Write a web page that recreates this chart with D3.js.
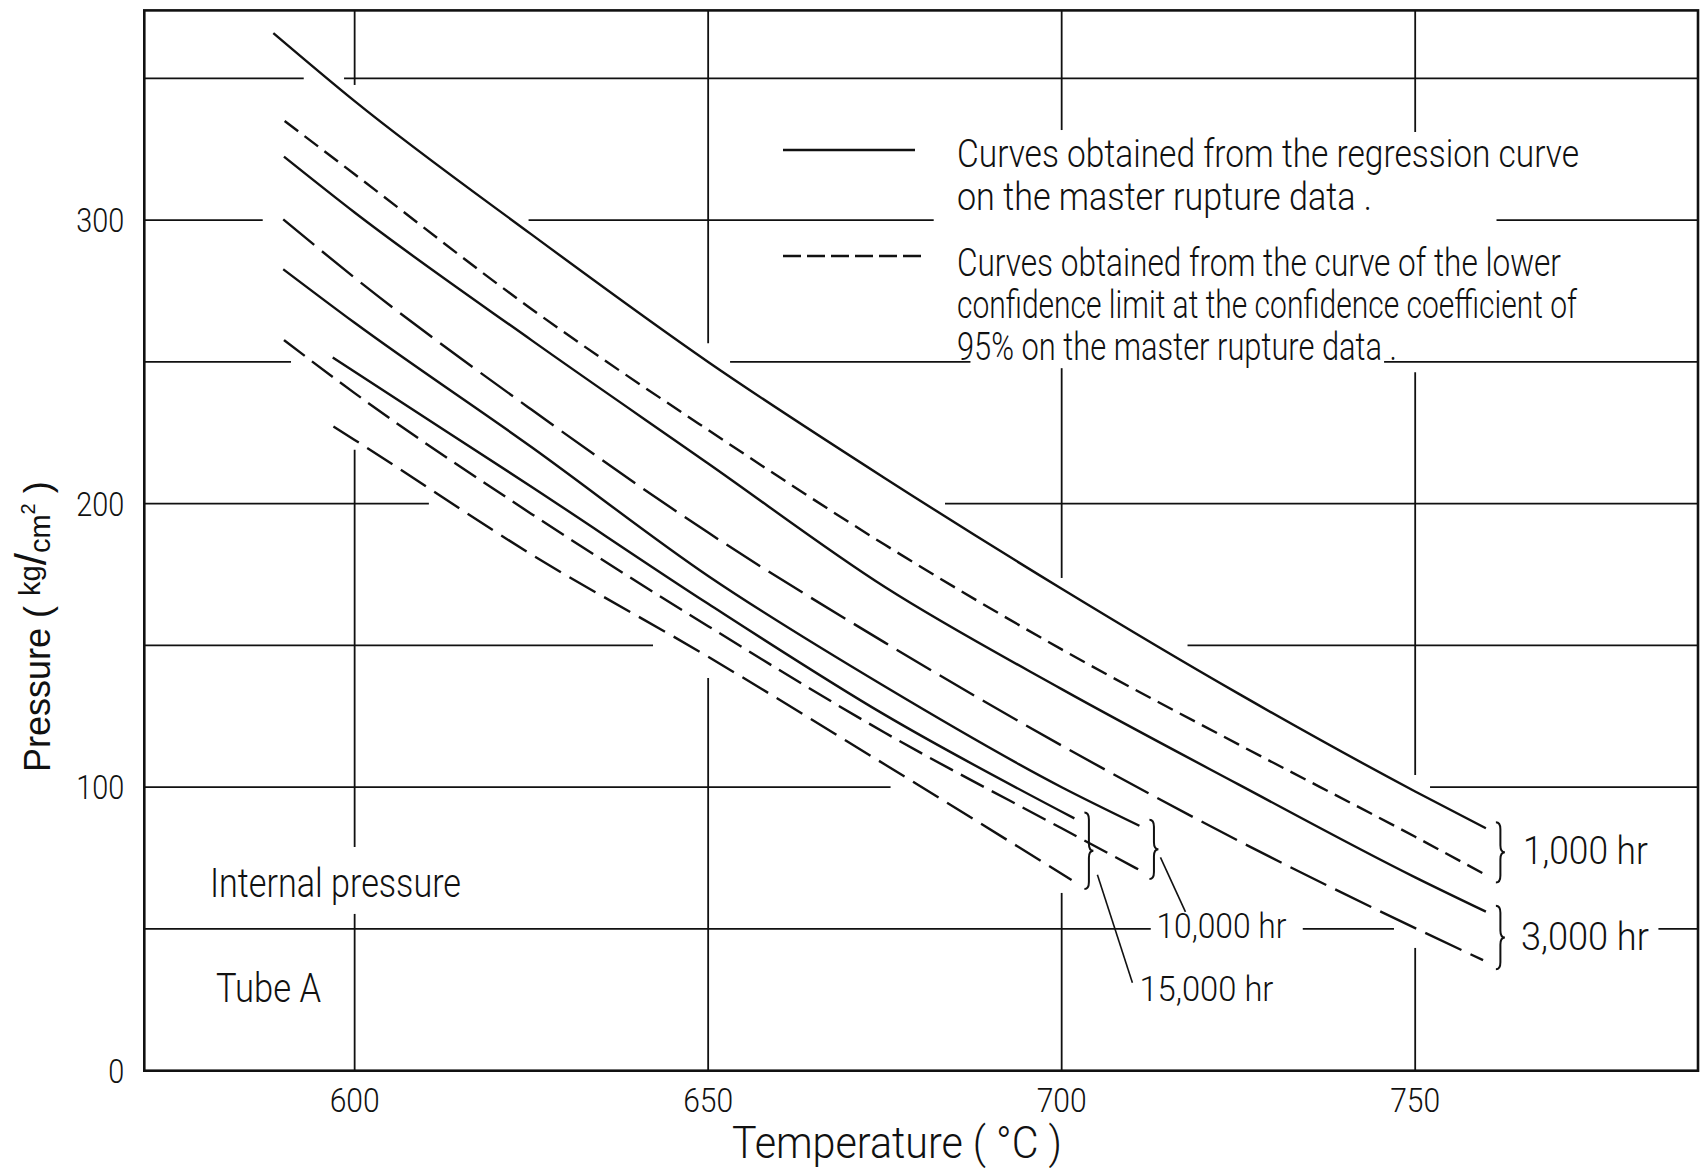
<!DOCTYPE html>
<html>
<head>
<meta charset="utf-8">
<script src="https://cdn.jsdelivr.net/npm/d3@7"></script>
<style>
  body { margin: 0; background: #fff; }
  text { font-family: Roboto, "DejaVu Sans Condensed", sans-serif; font-weight: 300; fill: #111; }
  text.plain { font-family: "Liberation Sans", Arial, sans-serif; font-weight: 400; }
</style>
</head>
<body>
<div id="chart"></div>
<script>
// rupture times, one pair of curves each
var hours = ["1,000 hr", "3,000 hr", "10,000 hr", "15,000 hr"];

// regression curves on the master rupture data: [temperature °C, pressure kg/cm2]
var reg1000  = [[588.5,366],[600,342],[625,295],[650,250],[675,209],[700,170],[725,133],[750,98.5],[760,85.5]];
var reg3000  = [[590,322.4],[600,302.7],[625,257.7],[650,214.2],[675,170.6],[700,134.6],[725,101],[750,68.2],[760,56.1]];
var reg10000 = [[589.9,282.7],[600,263.8],[625,220],[650,174.5],[675,135.5],[700,100],[711,86.4]];
var reg15000 = [[596.9,251.6],[600,246.5],[625,206],[650,164.7],[675,125.5],[701.8,89]];

// lower confidence limit, 95%
var lcl1000  = [[590.1,335],[600,316.2],[625,268.7],[650,226],[675,185.5],[700,148.6],[725,115.1],[750,82.5],[759.6,69.6]];
var lcl3000  = [[589.9,300.3],[600,279.7],[625,233.2],[650,189.8],[675,151],[700,114.7],[725,81.1],[750,50.3],[759.6,39]];
var lcl10000 = [[590,257.7],[600,239],[625,196.4],[650,156.8],[675,119.2],[700,85.5],[711,70.8]];
var lcl15000 = [[597,227.2],[600,222.5],[625,182.1],[650,146],[675,108],[701.4,67.3]];

var tempTicks = [600, 650, 700, 750];
var pressTicks = [0, 100, 200, 300];

// visible stretches of the grid lines (the drawing leaves gaps at crossings and text)
var hGridRuns = [
  [350, [[570.25,592.8],[598.5,790]]],
  [300, [[570.25,587.0],[624.6,681.9],[761.5,790]]],
  [250, [[570.25,591.0],[653.1,687.1],[745.6,790]]],
  [200, [[570.25,610.5],[683.5,790]]],
  [150, [[570.25,642.2],[717.8,790]]],
  [100, [[570.25,675.8],[752.1,790]]],
  [50,  [[570.25,712.6],[734.1,747.0],[784.4,790]]]
];
var vGridRuns = [
  [600, [[347.7,374],[78.9,219],[0,55.3]]],
  [650, [[256.6,374],[0,138.5]]],
  [700, [[331.8,374],[173.8,247.8],[0,62.7]]],
  [750, [[331.1,374],[104.3,246.4],[0,43.3]]]
];

function init(){
  var w = 1701, h = 1168;
  var ink = "#111";

  var x = d3.scaleLinear().domain([570.25, 790]).range([144.3, 1698]);
  var y = d3.scaleLinear().domain([0, 374]).range([1070.7, 10.4]);

  var svg = d3.select("#chart")
              .append("svg")
              .attr("width", w)
              .attr("height", h);

  // grid
  var hSegs = [], vSegs = [];
  hGridRuns.forEach(function(r){ r[1].forEach(function(s){ hSegs.push({p:r[0], a:s[0], b:s[1]}); }); });
  vGridRuns.forEach(function(r){ r[1].forEach(function(s){ vSegs.push({t:r[0], a:s[0], b:s[1]}); }); });

  svg.append("g").selectAll("line")
     .data(hSegs).enter().append("line")
     .attr("x1", function(d){ return x(d.a); })
     .attr("x2", function(d){ return x(d.b); })
     .attr("y1", function(d){ return y(d.p); })
     .attr("y2", function(d){ return y(d.p); })
     .attr("stroke", ink).attr("stroke-width", 1.8);

  svg.append("g").selectAll("line")
     .data(vSegs).enter().append("line")
     .attr("x1", function(d){ return x(d.t); })
     .attr("x2", function(d){ return x(d.t); })
     .attr("y1", function(d){ return y(d.a); })
     .attr("y2", function(d){ return y(d.b); })
     .attr("stroke", ink).attr("stroke-width", 1.8);

  // frame
  svg.append("rect")
     .attr("x", x(570.25)).attr("y", y(374))
     .attr("width", x(790) - x(570.25)).attr("height", y(0) - y(374))
     .attr("fill", "none").attr("stroke", ink).attr("stroke-width", 2.6);

  // tick labels
  svg.append("g").selectAll("text")
     .data(tempTicks).enter().append("text")
     .attr("x", function(d){ return x(d); })
     .attr("y", y(0) + 41)
     .attr("text-anchor", "middle")
     .attr("font-size", 33)
     .attr("textLength", 50)
     .attr("lengthAdjust", "spacingAndGlyphs")
     .text(function(d){ return d; });

  svg.append("g").selectAll("text")
     .data(pressTicks).enter().append("text")
     .attr("x", x(570.25) - 20)
     .attr("y", function(d){ return y(d) + 12; })
     .attr("text-anchor", "end")
     .attr("font-size", 33)
     .attr("textLength", function(d){ return String(d).length * 16; })
     .attr("lengthAdjust", "spacingAndGlyphs")
     .text(function(d){ return d; });

  // axis titles
  svg.append("text")
     .attr("x", 732).attr("y", 1158)
     .attr("font-size", 45)
     .attr("textLength", 330)
     .attr("lengthAdjust", "spacingAndGlyphs")
     .text("Temperature ( °C )");

  var yt = svg.append("text")
     .attr("class", "plain")
     .attr("transform", "translate(50,772) rotate(-90)")
     .attr("font-size", 36);
  yt.append("tspan").text("Pressure ( ");
  yt.append("tspan").attr("font-size", 29).attr("dy", -10).text("kg");
  yt.append("tspan").attr("font-size", 44).attr("dy", 6).text("/");
  yt.append("tspan").attr("font-size", 29).attr("dy", 4).text("cm");
  yt.append("tspan").attr("font-size", 20).attr("dy", -15).text("2");
  yt.append("tspan").attr("dy", 15).text(" )");

  // curves
  var line = d3.line()
      .x(function(d){ return x(d[0]); })
      .y(function(d){ return y(d[1]); })
      .curve(d3.curveMonotoneX);

  var regs = [reg1000, reg3000, reg10000, reg15000];
  var lcls = [lcl1000, lcl3000, lcl10000, lcl15000];
  var lclDash = ["17,8", "40,10", "26,9", "30,10"];

  svg.append("g").selectAll("path")
     .data(regs).enter().append("path")
     .attr("d", line)
     .attr("fill", "none").attr("stroke", ink).attr("stroke-width", 2.4);

  svg.append("g").selectAll("path")
     .data(lcls).enter().append("path")
     .attr("d", line)
     .attr("fill", "none").attr("stroke", ink).attr("stroke-width", 2.4)
     .attr("stroke-dasharray", function(d, i){ return lclDash[i]; });

  // braces grouping each pair of curve ends
  function brace(bx, y0, y1, bw){
    var ym = (y0 + y1) / 2, mx = bx + bw / 2, r = 7;
    return "M" + bx + "," + y0 +
           "Q" + mx + "," + y0 + " " + mx + "," + (y0 + r) +
           "L" + mx + "," + (ym - r) +
           "Q" + mx + "," + ym + " " + (bx + bw) + "," + ym +
           "Q" + mx + "," + ym + " " + mx + "," + (ym + r) +
           "L" + mx + "," + (y1 - r) +
           "Q" + mx + "," + y1 + " " + bx + "," + y1;
  }

  var tips = regs.map(function(r, i){
    var a = r[r.length - 1], b = lcls[i][lcls[i].length - 1];
    var bx = x(Math.max(a[0], b[0])) + 10;
    var y0 = y(a[1]) - 6, y1 = y(b[1]) + 9;
    svg.append("path")
       .attr("d", brace(bx, y0, y1, 9))
       .attr("fill", "none").attr("stroke", ink).attr("stroke-width", 2);
    return {x: bx + 9, y: (y0 + y1) / 2};
  });

  // labels for the braces
  function label(tx, ty, size, len, s){
    svg.append("text").attr("x", tx).attr("y", ty)
       .attr("font-size", size).attr("textLength", len)
       .attr("lengthAdjust", "spacingAndGlyphs").text(s);
  }
  label(tips[0].x + 18, tips[0].y + 12, 39, 125, hours[0]);
  label(tips[1].x + 16, tips[1].y + 13, 39, 128, hours[1]);
  label(tips[2].x - 2, y(50) + 9, 35, 130, hours[2]);
  label(tips[3].x + 46, tips[3].y + 150, 35, 134, hours[3]);

  // leaders
  svg.append("line")
     .attr("x1", tips[2].x + 2).attr("y1", tips[2].y + 8)
     .attr("x2", tips[2].x + 27).attr("y2", y(50) - 17)
     .attr("stroke", ink).attr("stroke-width", 1.6);
  svg.append("line")
     .attr("x1", tips[3].x + 4).attr("y1", tips[3].y + 24)
     .attr("x2", tips[3].x + 39).attr("y2", tips[3].y + 132)
     .attr("stroke", ink).attr("stroke-width", 1.6);

  // legend
  svg.append("line").attr("x1", 783).attr("x2", 915).attr("y1", 150).attr("y2", 150)
     .attr("stroke", ink).attr("stroke-width", 2.4);
  svg.append("line").attr("x1", 783).attr("x2", 927).attr("y1", 256).attr("y2", 256)
     .attr("stroke", ink).attr("stroke-width", 2.4).attr("stroke-dasharray", "18,6");

  var legendLines = [
    ["Curves obtained from the regression curve", 167, 622],
    ["on the master rupture data .", 210, 415],
    ["Curves obtained from the curve of the lower", 276, 604],
    ["confidence limit at the confidence coefficient of", 318, 620],
    ["95% on the master rupture data .", 360, 440]
  ];
  svg.append("g").selectAll("text")
     .data(legendLines).enter().append("text")
     .attr("x", 957)
     .attr("y", function(d){ return d[1]; })
     .attr("font-size", 39)
     .attr("textLength", function(d){ return d[2]; })
     .attr("lengthAdjust", "spacingAndGlyphs")
     .text(function(d){ return d[0]; });

  // notes
  label(210, 897, 40, 251, "Internal pressure");
  label(216, 1002, 40, 105, "Tube A");
}
window.onload = init;
</script>
</body>
</html>
